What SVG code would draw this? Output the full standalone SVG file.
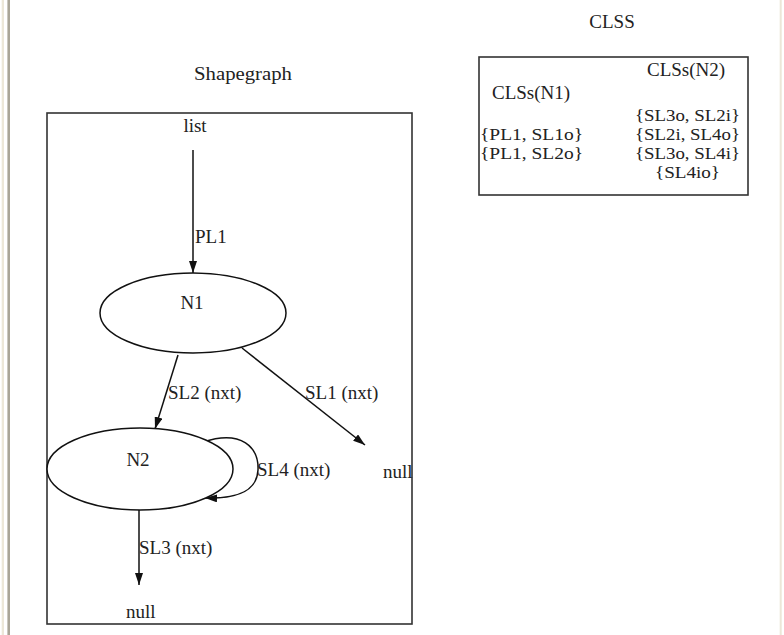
<svg xmlns="http://www.w3.org/2000/svg" width="784" height="635" viewBox="0 0 784 635">
<defs>
<style>
text{font-family:"Liberation Serif","Times New Roman",serif;font-size:19px;fill:#222}
.c{text-anchor:middle}
.s{font-size:17px}
.box{fill:none;stroke:#333;stroke-width:1.6}
.edge{fill:none;stroke:#111;stroke-width:1.5}
.node{fill:#fff;stroke:#111;stroke-width:1.5}
</style>
<marker id="ah" viewBox="0 0 12 8" refX="12" refY="4" markerWidth="12" markerHeight="8" markerUnits="userSpaceOnUse" orient="auto">
<path d="M0,0 L12,4 L0,8 Z" fill="#111"/>
</marker>
</defs>
<rect width="784" height="635" fill="#fff"/>
<rect x="1.7" y="0" width="2.3" height="635" fill="#ece7d8"/>
<rect x="7.4" y="0" width="2.6" height="635" fill="#a9a597"/>
<rect x="779.7" y="0" width="2" height="635" fill="#ece7d8"/>

<text class="c" x="612" y="28">CLSS</text>
<text class="c" x="243" y="80" textLength="98" lengthAdjust="spacingAndGlyphs">Shapegraph</text>

<g id="clss">
<rect class="box" x="479" y="57" width="269" height="138"/>
<text x="647" y="76">CLSs(N2)</text>
<text x="492" y="99">CLSs(N1)</text>
<text class="s" x="635" y="121" textLength="105" lengthAdjust="spacingAndGlyphs">{SL3o, SL2i}</text>
<text class="s" x="480" y="140" textLength="103" lengthAdjust="spacingAndGlyphs">{PL1, SL1o}</text>
<text class="s" x="635" y="140" textLength="105" lengthAdjust="spacingAndGlyphs">{SL2i, SL4o}</text>
<text class="s" x="480" y="159" textLength="103" lengthAdjust="spacingAndGlyphs">{PL1, SL2o}</text>
<text class="s" x="635" y="159" textLength="105" lengthAdjust="spacingAndGlyphs">{SL3o, SL4i}</text>
<text class="s" x="655" y="178" textLength="65" lengthAdjust="spacingAndGlyphs">{SL4io}</text>
</g>

<g id="shapegraph">
<rect class="box" x="47" y="113" width="365" height="511"/>
</g>

<g id="connectors">
<line class="edge" x1="193" y1="150" x2="193" y2="273" marker-end="url(#ah)"/>
<text x="195" y="243">PL1</text>
<line class="edge" x1="178" y1="355" x2="155" y2="429" marker-end="url(#ah)"/>
<text x="168" y="399">SL2 (nxt)</text>
<line class="edge" x1="242" y1="348" x2="365" y2="445" marker-end="url(#ah)"/>
<text x="305" y="399">SL1 (nxt)</text>
<path class="edge" d="M203,442 C242,429 259,448 258,470 C257,490 240,499 205,498" marker-end="url(#ah)"/>
<text x="257" y="476">SL4 (nxt)</text>
<line class="edge" x1="139" y1="510" x2="139" y2="585" marker-end="url(#ah)"/>
<text x="139" y="554">SL3 (nxt)</text>
</g>

<g id="list"><text class="c" x="195" y="132">list</text></g>
<g id="N1">
<ellipse class="node" cx="193" cy="313" rx="93" ry="40"/>
<text class="c" x="192" y="309">N1</text>
</g>
<g id="N2">
<ellipse class="node" cx="140" cy="469" rx="93" ry="41"/>
<text class="c" x="138" y="466">N2</text>
</g>
<g id="null1"><text x="383" y="478">null</text></g>
<g id="null2"><text x="126" y="618">null</text></g>
</svg>
